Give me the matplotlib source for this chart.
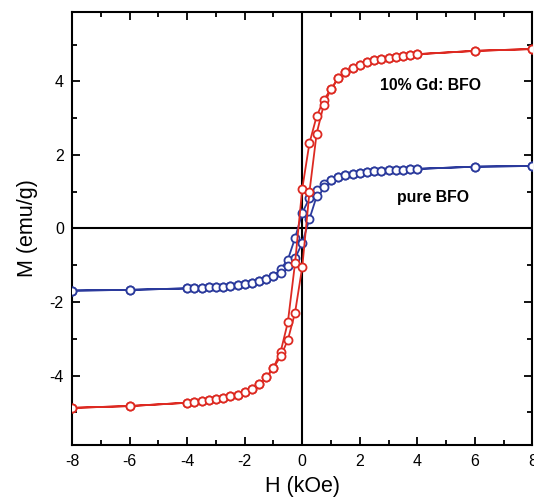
import matplotlib.pyplot as plt
from matplotlib.ticker import MultipleLocator

plt.rcParams['font.family'] = ['Liberation Sans', 'DejaVu Sans']
plt.rcParams['axes.unicode_minus'] = False

# field grid (kOe), same for both branches
h_grid = [-8, -6, -4, -3.75, -3.5, -3.25, -3, -2.75, -2.5, -2.25, -2, -1.75,
          -1.5, -1.25, -1, -0.75, -0.5, -0.25, 0, 0.25, 0.5, 0.75, 1, 1.25,
          1.5, 1.75, 2, 2.25, 2.5, 2.75, 3, 3.25, 3.5, 3.75, 4, 6, 8]

# 10% Gd: BFO, descending (upper) and ascending (lower) branch
gd_upper = [-4.88, -4.83, -4.74, -4.72, -4.70, -4.67, -4.64, -4.61, -4.57, -4.52,
            -4.45, -4.37, -4.23, -4.05, -3.79, -3.35, -2.55, -0.94, 1.08, 2.32,
            3.05, 3.50, 3.79, 4.08, 4.25, 4.37, 4.45, 4.52, 4.57, 4.61, 4.64,
            4.67, 4.70, 4.72, 4.74, 4.83, 4.88]
gd_lower = [-4.88, -4.83, -4.74, -4.72, -4.70, -4.67, -4.64, -4.61, -4.57, -4.52,
            -4.45, -4.37, -4.23, -4.05, -3.79, -3.48, -3.03, -2.29, -1.05, 0.99,
            2.58, 3.37, 3.79, 4.08, 4.25, 4.37, 4.45, 4.52, 4.57, 4.61, 4.64,
            4.67, 4.70, 4.72, 4.74, 4.83, 4.88]

# pure BFO
bfo_upper = [-1.69, -1.67, -1.63, -1.62, -1.61, -1.60, -1.59, -1.58, -1.56, -1.54,
             -1.51, -1.49, -1.44, -1.38, -1.30, -1.10, -0.85, -0.26, 0.42, 0.83,
             1.05, 1.22, 1.32, 1.40, 1.45, 1.49, 1.51, 1.53, 1.55, 1.57, 1.58,
             1.59, 1.60, 1.61, 1.62, 1.68, 1.70]
bfo_lower = [-1.69, -1.67, -1.63, -1.62, -1.61, -1.60, -1.59, -1.58, -1.56, -1.54,
             -1.51, -1.49, -1.44, -1.38, -1.30, -1.20, -1.02, -0.81, -0.40, 0.26,
             0.87, 1.12, 1.32, 1.40, 1.45, 1.49, 1.51, 1.53, 1.55, 1.57, 1.58,
             1.59, 1.60, 1.61, 1.62, 1.68, 1.70]

red = '#dd2a22'
blue = '#2b3a9c'


def loop(upper, lower):
    # go down along the upper branch, come back along the lower one
    h = h_grid[::-1] + h_grid
    m = upper[::-1] + lower
    return h, m


fig = plt.figure(figsize=(5.34, 5.01), dpi=100)
ax = fig.add_axes([0.135, 0.111, 0.862, 0.866])

ax.axhline(0, color='black', lw=1.5, zorder=1)
ax.axvline(0, color='black', lw=1.5, zorder=1)

for upper, lower, col in [(bfo_upper, bfo_lower, blue), (gd_upper, gd_lower, red)]:
    h, m = loop(upper, lower)
    ax.plot(h, m, color=col, lw=1.3, marker='o', ms=5.8, mew=1.3,
            mfc='white', mec=col, zorder=3)

ax.text(4.45, 3.88, '10% Gd: BFO', fontsize=11.4, fontweight='bold',
        ha='center', va='center')
ax.text(4.55, 0.83, 'pure BFO', fontsize=11.4, fontweight='bold',
        ha='center', va='center')

ax.set_xlim(-8, 8)
ax.set_ylim(-5.9, 5.9)
ax.xaxis.set_major_locator(MultipleLocator(2))
ax.xaxis.set_minor_locator(MultipleLocator(1))
ax.yaxis.set_major_locator(MultipleLocator(2))
ax.yaxis.set_minor_locator(MultipleLocator(1))
ax.tick_params(which='both', direction='in', top=True, right=True, width=1.3,
               labelsize=11.5)
ax.tick_params(which='major', length=6, pad=6)
ax.tick_params(which='minor', length=3.5)
for s in ax.spines.values():
    s.set_linewidth(1.5)

ax.set_xlabel('H (kOe)', fontsize=15.5, labelpad=5)
ax.set_ylabel('M (emu/g)', fontsize=15.5, labelpad=8)

fig.savefig('out.png', dpi=100)
